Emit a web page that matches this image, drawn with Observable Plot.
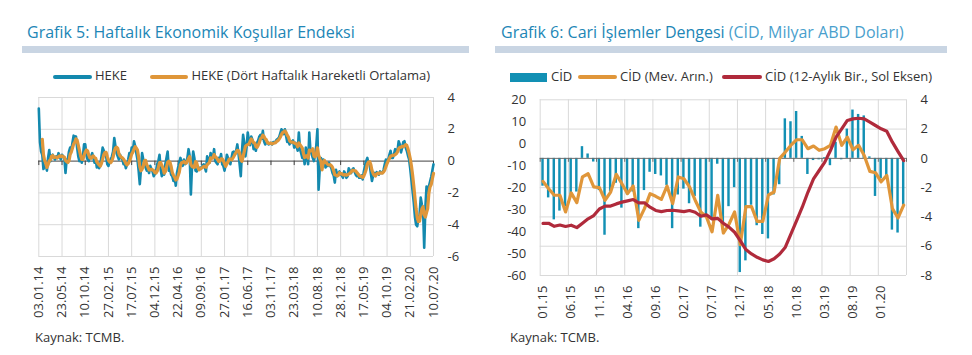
<!DOCTYPE html>
<html><head><meta charset="utf-8">
<script src="https://cdn.jsdelivr.net/npm/d3@7"></script>
<script src="https://cdn.jsdelivr.net/npm/@observablehq/plot@0.6"></script>
<style>
body{margin:0;background:#fff;font-family:"Open Sans",sans-serif;}
#page{position:relative;width:972px;height:355px;overflow:hidden;background:#fff;}
.title{position:absolute;font-size:16px;line-height:16px;color:#2186b6;white-space:nowrap;}
.tbar{position:absolute;height:7px;background:#c9d5e3;}
.leg{position:absolute;font-size:13px;line-height:13px;color:#333;white-space:nowrap;}
.sw{position:absolute;border-radius:2px;}
.src{position:absolute;font-size:13px;line-height:13px;color:#333;white-space:nowrap;}
.chart{position:absolute;}
</style></head>
<body><div id="page">
<div class="title" style="left:27px;top:24px">Grafik 5: Haftalık Ekonomik Koşullar Endeksi</div>
<div class="tbar" style="left:22px;top:46px;width:447px"></div>
<div class="title" style="left:501px;top:24px">Grafik 6: Cari İşlemler Dengesi <span style="color:#4a9fcd">(CİD, Milyar ABD Doları)</span></div>
<div class="tbar" style="left:495px;top:46px;width:452px"></div>

<div class="sw" style="left:53px;top:74.5px;width:39px;height:4px;background:#1389ae"></div>
<div class="leg" style="left:95px;top:69px">HEKE</div>
<div class="sw" style="left:150px;top:74.5px;width:38px;height:4px;background:#df9639"></div>
<div class="leg" style="left:191.5px;top:69px">HEKE (Dört Haftalık Hareketli Ortalama)</div>

<div class="sw" style="left:510px;top:72.5px;width:37px;height:9px;background:#1290b4;border-radius:0"></div>
<div class="leg" style="left:551px;top:69.5px">CİD</div>
<div class="sw" style="left:577.5px;top:74.5px;width:39px;height:4px;background:#e0963a"></div>
<div class="leg" style="left:620px;top:69.5px">CİD (Mev. Arın.)</div>
<div class="sw" style="left:721.5px;top:74.5px;width:40px;height:4px;background:#b02a3b"></div>
<div class="leg" style="left:765px;top:69.5px">CİD (12-Aylık Bir., Sol Eksen)</div>

<div id="left" class="chart" style="left:0px;top:85px"></div>
<div id="right" class="chart" style="left:486px;top:85px"></div>

<div class="src" style="left:35px;top:330.5px">Kaynak: TCMB.</div>
<div class="src" style="left:510px;top:330.5px">Kaynak: TCMB.</div>
</div>
<script>
// ---------- Grafik 5: weekly HEKE ----------
const weekTickLabels = ["03.01.14","23.05.14","10.10.14","27.02.15","17.07.15","04.12.15","22.04.16","09.09.16","27.01.17","16.06.17","03.11.17","23.03.18","10.08.18","28.12.18","17.05.19","04.10.19","21.02.20","10.07.20"];
const heke = [
 3.3, 1.2, 0.6, 0.4, -0.5, -0.3, -0.2, -0.6, 0.2, 0.7,
 0.0, 0.3, 0.4, 0.2, 0.1, 0.3, 0.2, 0.5, 0.3, 0.1,
 0.4, 0.3, 0.2, -0.75, 0.1, 0.1, 0.6, 0.85, 0.7, 1.15,
 1.6, 1.3, 1.55, 0.85, 0.3, 0.0, 0.2, -0.1, 0.3, 1.05,
 1.05, 0.4, 0.1, 0.0, 0.3, 0.3, 0.5, 0.2, -0.1, 0.1,
 -0.4, -0.2, -0.45, -0.2, 0.3, 0.85, 0.65, 0.4, 0.3, -0.2,
 -0.3, 0.0, 0.1, 0.3, 0.6, 1.45, 0.95, 0.5, 0.3, 0.1,
 0.4, 0.2, 0.1, -0.2, -0.1, -0.45, -0.2, 0.1, 0.5, 0.3,
 0.85, 0.6, 1.25, 0.95, 0.5, 0.1, -0.6, -1.45, -0.5, 0.5,
 0.1, 0.0, -0.4, -0.6, -0.5, -0.75, -0.3, -0.5, -0.65, -0.95,
 -0.8, -0.6, -0.2, 0.0, 0.4, -0.55, -0.95, -0.7, -0.85, -0.2,
 0.2, 0.6, -0.6, -0.5, -0.85, -0.95, -1.25, -1.0, -1.55, -0.75,
 -0.4, -0.1, 0.2, -0.1, -0.3, 0.1, -0.2, -0.1, 0.2, 0.75,
 0.3, -2.1, -0.3, 0.6, 0.2, -0.6, -0.65, -0.5, -0.45, -0.4,
 -0.45, -0.3, -0.2, -0.4, -0.65, 0.3, 0.1, -0.1, 0.5, 0.2,
 0.2, 0.75, 0.0, -0.1, -0.2, 0.2, 0.1, 0.45, -0.2, -0.3,
 -0.6, -0.2, 0.4, 0.2, 0.1, -0.2, 0.2, 0.55, 0.6, 0.4,
 0.65, 1.05, 0.5, -0.2, -0.95, 0.6, 1.65, 1.15, 0.3, 0.9,
 1.8, 1.25, 1.0, 1.55, 1.35, 0.75, 0.9, 0.65, 1.15, 1.3,
 1.55, 1.65, 1.4, 1.9, 1.25, 1.05, 1.15, 1.2, 1.05, 1.1,
 1.15, 1.05, 1.2, 1.15, 1.25, 1.35, 1.4, 1.5, 1.75, 2.0,
 1.9, 1.7, 2.0, 1.6, 1.2, 1.3, 1.05, 1.25, 1.15, 1.3,
 0.85, 1.15, 0.95, 0.65, 1.8, 0.75, 0.5, 0.2, 0.4, -0.2,
 0.85, 0.3, -0.2, 1.8, 0.65, 0.45, 0.2, 0.0, 0.4, 0.95,
 2.0, -1.8, -0.5, 0.2, -0.1, 0.1, 0.0, -0.4, -0.2, -0.3,
 -0.1, -0.3, -0.45, -0.75, -0.9, -1.35, -0.55, -0.95, -0.75, -0.65,
 -0.85, -0.9, -1.05, -0.65, -0.8, -1.05, -0.95, -0.45, -0.6, -0.75,
 -0.55, -0.45, -0.65, -0.85, -0.95, -0.8, -1.05, -1.05, -0.9, -1.15,
 -0.65, -0.3, 0.0, 0.2, -0.15, -0.2, -0.75, -1.25, -0.9, -0.75,
 -0.85, -0.7, -0.75, -0.85, -0.65, -0.75, -0.75, -0.55, -0.2, 0.1,
 0.05, 0.1, 0.4, 0.65, 0.2, 0.2, 0.45, 0.75, 0.5, 0.65,
 1.25, 1.05, 0.55, 0.85, 1.2, 1.25, 0.85, 0.65, 0.35, 0.1,
 -0.5, -1.2, -1.9, -2.6, -3.5, -4.0, -4.1, -3.6, -3.4, -2.3,
 -2.75, -3.0, -5.45, -2.9, -1.6, -2.0, -1.6, -1.3, -1.0, -0.6,
 -0.2
];
const hekeTicks = [-6, -4, -2, 0, 2, 4];

// ---------- Grafik 6: monthly current account ----------
const monthTickLabels = ["01.15","06.15","11.15","04.16","09.16","02.17","07.17","12.17","05.18","10.18","03.19","08.19","01.20"];
const cid = [
 -1.9, -2.7, -4.2, -3.6, -3.3, -2.5, -2.3, 0.8, 0.3, -0.25,
 -2.2, -5.25, -2.3, -1.7, -3.4, -2.5, -2.3, -4.8, -2.2, -0.95,
 -1.1, -1.2, -1.85, -4.8, -2.5, -2.1, -3.1, -2.6, -4.7, -3.9,
 -4.2, -0.4, -4.9, -3.3, -2.0, -7.8, -7.0, -3.2, -4.6, -5.2,
 -5.5, -2.5, -1.8, 2.7, 2.5, 3.2, 1.5, -1.1, -0.15, -0.1,
 0.05, -0.5, 1.1, -0.1, 2.0, 3.3, 3.0, 2.9, 0.1, -2.6,
 -1.4, -1.3, -4.9, -5.1, -3.2
];
const cidSa = [
 -1.57, -2.07, -2.52, -2.52, -3.66, -2.36, -3.02, -1.27, -1.05, -1.95,
 -2.0, -2.86, -2.3, -1.09, -1.73, -2.41, -1.89, -4.23, -3.43, -2.41,
 -2.59, -2.8, -1.89, -3.09, -1.27, -1.39, -1.95, -2.86, -3.66, -4.0,
 -5.02, -2.52, -5.1, -4.5, -3.66, -5.9, -3.3, -3.3, -4.3, -4.3,
 -2.5, -2.3, 0.0, 0.43, 0.9, 1.27, 1.27, 0.66, 0.84, 0.55,
 0.66, 0.89, 2.14, 0.89, 1.45, 0.59, 0.89, 0.2, -0.89, -0.98,
 -1.6, -1.16, -3.43, -4.07, -3.2
];
const cid12 = [
 -36.3, -36.2, -37.6, -37.0, -37.7, -37.1, -38.2, -36.2, -34.2, -32.7,
 -29.7, -28.4, -28.4, -27.4, -26.6, -26.0, -25.4, -26.9, -26.9, -28.9,
 -30.4, -30.9, -30.4, -30.3, -30.6, -30.9, -30.4, -31.2, -33.0, -32.4,
 -34.2, -34.0, -36.2, -38.0, -40.3, -44.1, -48.2, -50.2, -51.7, -52.9,
 -53.6, -52.4, -50.2, -47.1, -41.0, -35.0, -28.9, -22.1, -16.0, -12.2,
 -8.4, -3.1, 3.0, 6.8, 10.6, 11.3, 11.6, 11.3, 9.8, 8.3,
 6.8, 5.7, 0.7, -3.6, -7.7
];
const leftAxisTicks = [20, 10, 0, -10, -20, -30, -40, -50, -60];
const rightAxisTicks = [4, 2, 0, -2, -4, -6, -8];

const fontStyle = {fontFamily: "'Open Sans', sans-serif", fontSize: "13px", color: "#333", background: "transparent", overflow: "visible"};

// Left chart
const hekeData = heke.map((v, i) => ({i, v}));
const weekTicks = weekTickLabels.map((_, k) => k * 20);
const leftChart = Plot.plot({
  width: 480, height: 236,
  marginLeft: 38.3, marginRight: 47, marginTop: 12, marginBottom: 65,
  style: fontStyle,
  x: {type: "linear", domain: [0, weekTicks[weekTicks.length - 1]], axis: null, label: null},
  y: {domain: [-6, 4], axis: null, label: null},
  marks: [
    Plot.ruleX(weekTicks, {stroke: "#d9d9d9", strokeWidth: 1}),
    Plot.ruleY(hekeTicks.filter(d => d !== 0), {stroke: "#d9d9d9", strokeWidth: 1}),
    Plot.ruleX(weekTicks, {x: d => d, y1: 0, y2: -0.28, stroke: "#404040"}),
    Plot.ruleY([0], {stroke: "#404040", strokeWidth: 1}),
    Plot.line(hekeData, {x: "i", y: "v", stroke: "#1389ae", strokeWidth: 2.6}),
    Plot.line(hekeData, Plot.windowY({k: 4, anchor: "end", strict: true}, {x: "i", y: "v", stroke: "#df9639", strokeWidth: 3.2})),
    Plot.axisY(hekeTicks, {anchor: "right", label: null, tickSize: 0, tickPadding: 14, tickFormat: d => String(d)}),
    Plot.axisX(weekTicks, {anchor: "bottom", label: null, tickSize: 0, tickPadding: 10, tickRotate: -90, tickFormat: d => weekTickLabels[d / 20]})
  ]
});
document.getElementById("left").appendChild(leftChart);

// Right chart
const months = cid.map((v, i) => ({i, cid: v, sa: cidSa[i], c12: cid12[i]}));
const monthTicks = monthTickLabels.map((_, k) => k * 5);
const monthBounds = d3.range(0, cid.length + 1, 5);
const leftToRight = v => (v - leftAxisTicks[leftAxisTicks.length - 1]) * (rightAxisTicks[0] - rightAxisTicks[rightAxisTicks.length - 1]) / (leftAxisTicks[0] - leftAxisTicks[leftAxisTicks.length - 1]) + rightAxisTicks[rightAxisTicks.length - 1];
const rightChart = Plot.plot({
  width: 486, height: 241,
  marginLeft: 53.7, marginRight: 66, marginTop: 14.3, marginBottom: 51,
  style: fontStyle,
  x: {type: "linear", domain: [0, cid.length], axis: null, label: null},
  y: {domain: [-8, 4], axis: null, label: null},
  marks: [
    Plot.ruleX(monthBounds, {stroke: "#d9d9d9", strokeWidth: 1}),
    Plot.ruleY(rightAxisTicks.filter(d => d !== 0), {stroke: "#d9d9d9", strokeWidth: 1}),
    Plot.rectY(months, {x1: "i", x2: d => d.i + 1, y1: 0, y2: "cid", fill: "#1290b4", insetLeft: 1.6, insetRight: 1.6}),
    Plot.ruleY([0], {stroke: "#6b6b6b", strokeWidth: 1}),
    Plot.ruleX(monthBounds, {x: d => d, y1: 0, y2: -0.27, stroke: "#6b6b6b"}),
    Plot.line(months, {x: d => d.i + 0.5, y: "sa", stroke: "#e0963a", strokeWidth: 3.2}),
    Plot.line(months, {x: d => d.i + 0.5, y: d => leftToRight(d.c12), stroke: "#b02a3b", strokeWidth: 3.2}),
    Plot.axisY(leftAxisTicks, {anchor: "left", label: null, y: leftToRight, tickSize: 0, tickPadding: 14, tickFormat: d => String(d)}),
    Plot.axisY(rightAxisTicks, {anchor: "right", label: null, tickSize: 0, tickPadding: 14, tickFormat: d => String(d)}),
    Plot.axisX(monthTicks, {anchor: "bottom", label: null, x: d => d + 0.5, tickSize: 0, tickPadding: 10, tickRotate: -90, tickFormat: d => monthTickLabels[d / 5]})
  ]
});
document.getElementById("right").appendChild(rightChart);
</script>
</body></html>
